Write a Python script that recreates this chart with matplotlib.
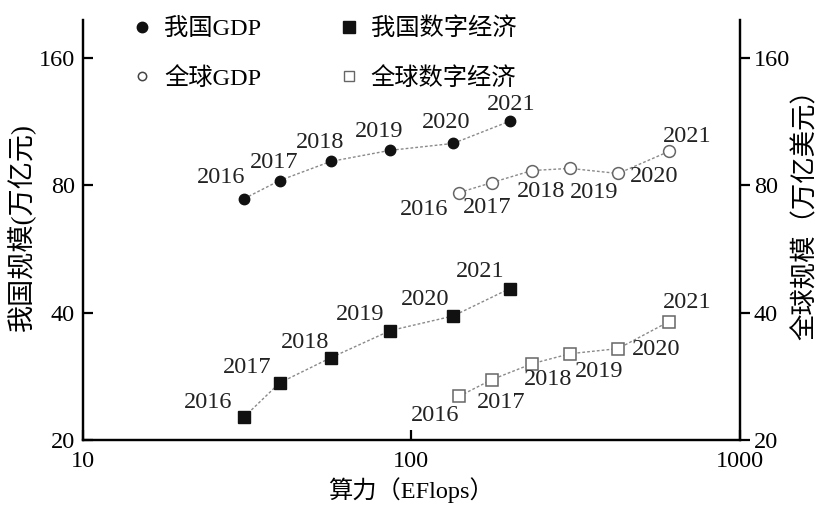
import matplotlib
matplotlib.use('Agg')
import matplotlib.pyplot as plt
from matplotlib.lines import Line2D

plt.rcParams['font.family'] = ['Liberation Serif', 'Noto Sans CJK SC']
plt.rcParams['axes.unicode_minus'] = False

years = ['2016', '2017', '2018', '2019', '2020', '2021']

# 算力 (EFlops)
cn_compute = [31.0, 39.7, 56.8, 86.3, 134, 199]
gl_compute = [140, 176, 233, 304, 426, 608]

# 规模
cn_gdp = [74.5, 82.2, 91.2, 96.9, 100.6, 113.5]
cn_digital = [22.7, 27.3, 31.3, 36.3, 39.3, 45.6]
gl_gdp = [77.0, 81.3, 86.8, 87.8, 85.4, 96.3]
gl_digital = [25.4, 27.8, 30.3, 32.0, 32.9, 38.1]

y_ticks = [20, 40, 80, 160]
x_ticks = [10, 100, 1000]

# label offsets (pixels) for the year annotations
off_cn_gdp = [(-23, 21), (-5, 18), (-11, 19), (-11, 19), (-7, 21), (2, 17)]
off_cn_dig = [(-36, 14), (-32, 15), (-26, 15), (-30, 16), (-28, 16), (-29, 17)]
off_gl_gdp = [(-35, -17), (-5, -25), (9, -21), (24, -24), (36, -3), (18, 15)]
off_gl_dig = [(-24, -19), (9, -23), (16, -16), (29, -18), (38, -1), (18, 19)]

FS = 17.5
LINE = dict(color='#8a8a8a', lw=1.0, ls=(0, (2, 1.5)), zorder=1)

fig = plt.figure(figsize=(8.23, 5.14), dpi=100)
ax = fig.add_axes([0.1009, 0.144, 0.798, 0.817])
ax2 = ax.twinx()

for a in (ax, ax2):
    a.set_xscale('log')
    a.set_yscale('log')
    a.set_xlim(10, 1000)
    a.set_ylim(20, 197)
    a.spines['top'].set_visible(False)
    for s in ('left', 'right', 'bottom'):
        a.spines[s].set_linewidth(1.6)
    a.set_yticks(y_ticks)
    a.set_yticklabels([str(v) for v in y_ticks])
    a.minorticks_off()

ax.set_xticks(x_ticks)
ax.set_xticklabels([str(v) for v in x_ticks])
ax.tick_params(axis='x', direction='in', length=7, width=1.6, labelsize=FS, pad=8)
ax.tick_params(axis='y', direction='in', length=7, width=1.6, labelsize=FS, pad=6)
ax2.tick_params(axis='y', direction='out', length=7, width=1.6, labelsize=FS, pad=3)

ax.plot(cn_compute, cn_gdp, **LINE)
ax.plot(cn_compute, cn_digital, **LINE)
ax2.plot(gl_compute, gl_gdp, **LINE)
ax2.plot(gl_compute, gl_digital, **LINE)

ax.plot(cn_compute, cn_gdp, 'o', ms=7.5, color='#111111', zorder=3)
ax.plot(cn_compute, cn_digital, 's', ms=9, color='#111111', zorder=3)
ax2.plot(gl_compute, gl_gdp, 'o', ms=8.5, mfc='white', mec='#666666', mew=1.1, zorder=3)
ax2.plot(gl_compute, gl_digital, 's', ms=9, mfc='white', mec='#666666', mew=1.1, zorder=3)


def label_years(a, xs, ys, offs):
    for yr, x, y, (dx, dy) in zip(years, xs, ys, offs):
        a.annotate(yr, (x, y), xytext=(dx, dy), textcoords='offset pixels',
                   ha='center', va='center', fontsize=FS, color='#222222')


label_years(ax, cn_compute, cn_gdp, off_cn_gdp)
label_years(ax, cn_compute, cn_digital, off_cn_dig)
label_years(ax2, gl_compute, gl_gdp, off_gl_gdp)
label_years(ax2, gl_compute, gl_digital, off_gl_dig)

ax.set_xlabel('算力（EFlops）', fontsize=FS, labelpad=4)
ax.set_ylabel('我国规模(万亿元)', fontsize=19.5)
ax2.set_ylabel('全球规模（万亿美元）', fontsize=19)
ax.yaxis.set_label_coords(-0.072, 0.507)
ax2.yaxis.set_label_coords(1.08, 0.552)

handles = [
    Line2D([], [], ls='none', marker='o', ms=7.5, color='#111111'),
    Line2D([], [], ls='none', marker='o', ms=6, mfc='white', mec='#444444', mew=1.1),
    Line2D([], [], ls='none', marker='s', ms=9, color='#111111'),
    Line2D([], [], ls='none', marker='s', ms=7, mfc='white', mec='#666666', mew=1.0),
]
labels = ['我国GDP', '全球GDP', '我国数字经济', '全球数字经济']
ax2.legend(handles, labels, ncol=2, frameon=False, fontsize=FS,
           loc='upper left', bbox_to_anchor=(0.042, 1.058),
           handlelength=0.8, handletextpad=0.5, columnspacing=3.2,
           labelspacing=1.08)

fig.savefig('out.png', dpi=100)
